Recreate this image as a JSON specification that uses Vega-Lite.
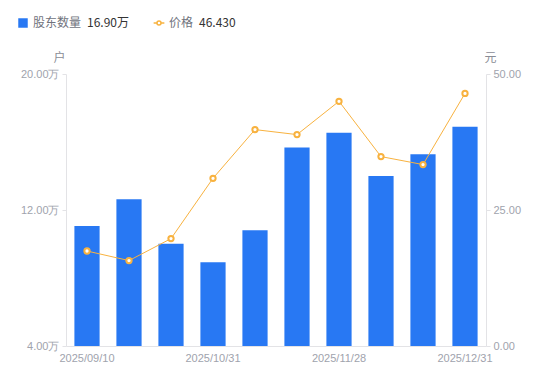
{
  "$schema": "https://vega.github.io/schema/vega-lite/v6.json",
  "autosize": "none",
  "width": 420,
  "height": 272,
  "padding": {"left": 66, "top": 74, "right": 64, "bottom": 35},
  "background": "white",
  "config": {
    "view": {"stroke": null},
    "font": "Noto Sans CJK SC",
    "axis": {"grid": false, "domainColor": "#e3e3e6", "tickColor": "#e3e3e6", "labelColor": "#a0a3ad", "labelFont": "Liberation Sans", "labelFontSize": 11, "titleColor": "#8a8d96", "titleFontWeight": "normal", "titleFontSize": 12}
  },
  "data": {
    "values": [
      {"date": "2025/09/10", "holders": 11.06, "price": 17.46},
      {"date": "2025/09/19", "holders": 12.63, "price": 15.70},
      {"date": "2025/09/30", "holders": 10.02, "price": 19.74},
      {"date": "2025/10/31", "holders": 8.92, "price": 30.83},
      {"date": "2025/11/10", "holders": 10.81, "price": 39.78},
      {"date": "2025/11/20", "holders": 15.67, "price": 38.86},
      {"date": "2025/11/28", "holders": 16.55, "price": 44.98},
      {"date": "2025/12/10", "holders": 14.00, "price": 34.82},
      {"date": "2025/12/19", "holders": 15.28, "price": 33.35},
      {"date": "2025/12/31", "holders": 16.90, "price": 46.43}
    ]
  },
  "encoding": {
    "x": {
      "field": "date", "type": "ordinal", "sort": null,
      "scale": {"paddingInner": 0.4, "paddingOuter": 0.2},
      "axis": {"title": null, "ticks": false, "labelAngle": 0, "labelPadding": 6, "labelColor": "#a0a3ad",
        "labelExpr": "indexof(['2025/09/10','2025/10/31','2025/11/28','2025/12/31'], datum.value) >= 0 ? datum.value : ''"}
    }
  },
  "layer": [
    {
      "mark": {"type": "bar", "clip": true},
      "encoding": {
        "y": {
          "field": "holders", "type": "quantitative",
          "scale": {"domain": [4, 20], "nice": false, "zero": false},
          "axis": {"values": [4, 12, 20], "tickSize": 4, "labelPadding": 3,
            "labelExpr": "format(datum.value, '.2f') + '万'",
            "title": "户", "titleAngle": 0, "titleX": -7, "titleY": -17, "titleAlign": "center", "titleBaseline": "middle"}
        },
        "y2": {"datum": 4},
        "color": {
          "datum": "股东数量",
          "scale": {"range": ["#2878f3"]},
          "legend": {"orient": "none", "legendX": -49, "legendY": -57, "title": "16.90万", "titleOrient": "right",
            "titleColor": "#333333", "titleFontWeight": "normal", "titleFontSize": 12, "titleFont": "Noto Sans CJK SC", "titlePadding": 6,
            "labelColor": "#70737d", "labelFontSize": 12, "symbolType": "square", "symbolSize": 90, "symbolStrokeWidth": 0}
        }
      }
    },
    {
      "mark": {"type": "line", "strokeWidth": 1, "point": {"filled": true, "fill": "white", "size": 28, "strokeWidth": 2}},
      "encoding": {
        "y": {
          "field": "price", "type": "quantitative",
          "scale": {"domain": [0, 50], "nice": false},
          "axis": {"orient": "right", "values": [0, 25, 50], "tickSize": 4, "labelPadding": 3, "format": ".2f",
            "title": "元", "titleAngle": 0, "titleX": 4, "titleY": -17, "titleAlign": "center", "titleBaseline": "middle"}
        },
        "stroke": {
          "datum": "价格",
          "scale": {"range": ["#f8b23f"]},
          "legend": {"orient": "none", "legendX": 87, "legendY": -57, "title": "46.430", "titleOrient": "right",
            "titleColor": "#333333", "titleFontWeight": "normal", "titleFontSize": 12, "titleFont": "Noto Sans CJK SC", "titlePadding": 6,
            "labelColor": "#70737d", "labelFontSize": 12,
            "symbolType": "M-1.2,0 L-0.45,0 M0.45,0 L1.2,0 M0.45,0 A0.45,0.45 0 1,1 -0.45,0 A0.45,0.45 0 1,1 0.45,0",
            "symbolSize": 80, "symbolStrokeWidth": 1.5, "symbolFillColor": "white", "symbolStrokeColor": "#f8b23f"}
        }
      }
    }
  ],
  "resolve": {"scale": {"y": "independent"}}
}
